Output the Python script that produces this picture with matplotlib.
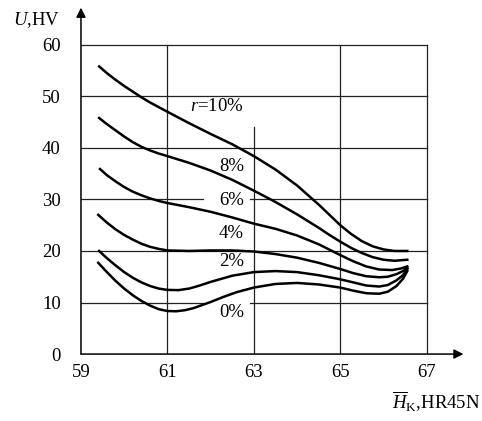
import numpy as np
import matplotlib.pyplot as plt

plt.rcParams['font.family'] = ['Liberation Serif', 'DejaVu Serif']
plt.rcParams['mathtext.fontset'] = 'custom'
plt.rcParams['mathtext.rm'] = 'Liberation Serif'
plt.rcParams['mathtext.it'] = 'Liberation Serif:italic'

# curves, x = hardness, y = U
x10 = [59.42, 59.6, 59.8, 60.0, 60.2, 60.4, 60.6, 60.8, 61.0, 61.5, 62.0, 62.5, 63.0, 63.5, 64.0,
       64.5, 64.75, 65.0, 65.25, 65.5, 65.75, 66.0, 66.25, 66.55]
y10 = [55.8, 54.5, 53.2, 52.0, 50.9, 49.8, 48.8, 47.9, 47.0, 44.8, 42.7, 40.7, 38.4, 35.8, 32.7,
       29.0, 27.0, 25.0, 23.3, 21.9, 20.9, 20.3, 20.0, 20.0]

x8 = [59.42, 59.6, 59.8, 60.0, 60.2, 60.4, 60.6, 60.8, 61.0, 61.5, 62.0, 62.5, 63.0, 63.5, 64.0,
      64.5, 64.75, 65.0, 65.25, 65.5, 65.75, 66.0, 66.25, 66.55]
y8 = [45.8, 44.6, 43.4, 42.2, 41.1, 40.2, 39.5, 38.9, 38.4, 37.1, 35.6, 33.8, 31.7, 29.5, 27.1,
      24.5, 23.1, 21.8, 20.6, 19.6, 18.8, 18.3, 18.1, 18.3]

x6 = [59.44, 59.6, 59.8, 60.0, 60.2, 60.4, 60.6, 60.8, 61.0, 61.5, 62.0, 62.5, 63.0, 63.5, 64.0,
      64.5, 65.0, 65.3, 65.6, 65.9, 66.2, 66.4, 66.55]
y6 = [35.9, 34.7, 33.5, 32.4, 31.5, 30.8, 30.2, 29.7, 29.3, 28.5, 27.6, 26.5, 25.3, 24.3, 23.0,
      21.3, 19.2, 18.0, 17.0, 16.4, 16.3, 16.6, 17.0]

x4 = [59.4, 59.6, 59.8, 60.0, 60.2, 60.4, 60.6, 60.8, 61.0, 61.5, 62.0, 62.5, 63.0, 63.5, 64.0,
      64.5, 65.0, 65.3, 65.6, 65.9, 66.1, 66.3, 66.45, 66.55]
y4 = [27.0, 25.5, 24.2, 23.1, 22.2, 21.4, 20.8, 20.4, 20.1, 20.0, 20.1, 20.1, 19.9, 19.4, 18.7,
      17.7, 16.5, 15.7, 15.1, 14.9, 15.0, 15.5, 16.1, 16.7]

x2 = [59.42, 59.6, 59.8, 60.0, 60.2, 60.4, 60.6, 60.8, 61.0, 61.25, 61.5, 61.75, 62.0, 62.5, 63.0,
      63.5, 64.0, 64.5, 65.0, 65.3, 65.6, 65.9, 66.1, 66.3, 66.45, 66.55]
y2 = [20.0, 18.6, 17.2, 15.9, 14.8, 13.9, 13.2, 12.7, 12.45, 12.4, 12.7, 13.3, 14.0, 15.2, 15.9,
      16.1, 15.9, 15.3, 14.5, 13.9, 13.3, 13.1, 13.4, 14.3, 15.3, 16.5]

x0 = [59.4, 59.6, 59.8, 60.0, 60.2, 60.4, 60.6, 60.8, 61.0, 61.2, 61.4, 61.6, 61.8, 62.0, 62.3,
      62.6, 63.0, 63.5, 64.0, 64.5, 65.0, 65.3, 65.6, 65.9, 66.1, 66.3, 66.45, 66.55]
y0 = [17.7, 15.9, 14.2, 12.7, 11.4, 10.3, 9.4, 8.7, 8.35, 8.3, 8.5, 8.9, 9.5, 10.1, 11.1,
      12.0, 12.9, 13.6, 13.8, 13.5, 12.9, 12.3, 11.8, 11.7, 12.1, 13.2, 14.6, 16.1]

labels = ['$r$=10%', '8%', '6%', '4%', '2%', '0%']
label_y = [48.0, 36.3, 29.8, 23.3, 17.9, 8.0]

xticks = [59, 61, 63, 65, 67]
yticks = [0, 10, 20, 30, 40, 50, 60]

fig = plt.figure(figsize=(4.82, 4.21), dpi=100)
ax = fig.add_axes([0.168, 0.159, 0.807, 0.8326])
ax.set_xlim(59, 68)
ax.set_ylim(0, 68)

# grid (with gaps where the labels sit)
for yv in [10, 20, 30, 40, 50, 60]:
    if yv in (10, 30):
        ax.plot([59, 61.82], [yv, yv], color='#222222', lw=0.9)
        ax.plot([62.91, 67], [yv, yv], color='#222222', lw=0.9)
    else:
        ax.plot([59, 67], [yv, yv], color='#222222', lw=0.9)
for xv in [61, 63, 65, 67]:
    top = 44.1 if xv == 63 else 60
    ax.plot([xv, xv], [0, top], color='#222222', lw=0.9)

# curves
for xs, ys in [(x10, y10), (x8, y8), (x6, y6), (x4, y4), (x2, y2), (x0, y0)]:
    ax.plot(xs, ys, color='black', lw=1.8, solid_joinstyle='round')

for lab, yl in zip(labels, label_y):
    ax.text(62.77, yl, lab, ha='right', va='center', fontsize=13.5)

# axes with arrows
ax.annotate('', xy=(59, 67.2), xytext=(59, 0),
            arrowprops=dict(arrowstyle='-|>', color='black', lw=1.1, mutation_scale=14,
                            shrinkA=0, shrinkB=0), annotation_clip=False)
ax.annotate('', xy=(67.85, 0), xytext=(59, 0),
            arrowprops=dict(arrowstyle='-|>', color='black', lw=1.1, mutation_scale=14,
                            shrinkA=0, shrinkB=0), annotation_clip=False)

for s in ax.spines.values():
    s.set_visible(False)
ax.set_xticks(xticks)
ax.set_yticks(yticks)
ax.set_xticklabels([str(t) for t in xticks], fontsize=13.5)
ax.set_yticklabels([str(t) for t in yticks], fontsize=13.5)
ax.tick_params(axis='x', length=0, pad=7.5)
ax.tick_params(axis='y', length=0, pad=14.5)

fig.text(13 / 482, 1 - 20 / 421, '$U$,HV', ha='left', va='center', fontsize=13.5)
fig.text(481 / 482, 1 - 402 / 421, r'$\overline{H}_{\mathrm{K}}$,HR45N', ha='right', va='center', fontsize=13.5)

plt.savefig('out.png', dpi=100)
